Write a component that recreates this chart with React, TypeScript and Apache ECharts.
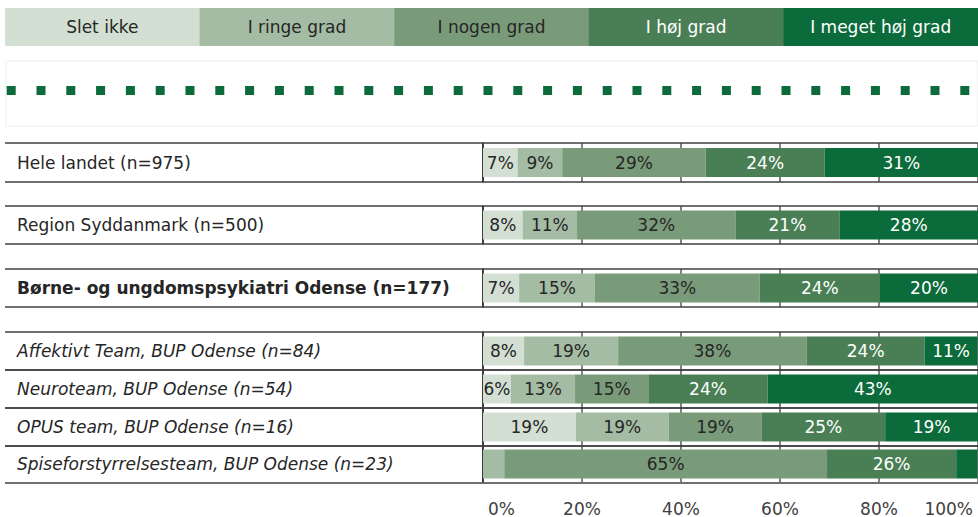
import React, { useEffect, useRef } from "react";
import * as echarts from "echarts";

const levels = ["Slet ikke", "I ringe grad", "I nogen grad", "I høj grad", "I meget høj grad"];
const categories = [
  "Hele landet (n=975)",
  "Region Syddanmark (n=500)",
  "Børne- og ungdomspsykiatri Odense (n=177)",
  "Affektivt Team, BUP Odense (n=84)",
  "Neuroteam, BUP Odense (n=54)",
  "OPUS team, BUP Odense (n=16)",
  "Spiseforstyrrelsesteam, BUP Odense (n=23)",
];
const sletIkke = [7, 8, 7.3, 8.3, 5.6, 18.75, 0];
const iRingeGrad = [9, 11, 15.3, 19.0, 13.0, 18.75, 4.3];
const iNogenGrad = [29, 32, 33.3, 38.1, 14.8, 18.75, 65.2];
const iHoejGrad = [24, 21, 24.3, 23.8, 24.1, 25, 26.1];
const iMegetHoejGrad = [31, 28, 19.8, 10.7, 42.6, 18.75, 4.3];
const xTickValues = [0, 20, 40, 60, 80, 100];

const seriesValues = [sletIkke, iRingeGrad, iNogenGrad, iHoejGrad, iMegetHoejGrad];
const colors = ["#d3dfd3", "#a3bca3", "#7a9b7a", "#4a7f55", "#0b6b3a"];
const labelColors = ["#262626", "#262626", "#262626", "#ffffff", "#ffffff"];

// table layout (row top / bottom in px)
const rowTops = [143, 206, 269, 332, 370, 408, 446];
const rowBottoms = [182, 244, 307, 370, 408, 446, 483];
const rowWeights = ["normal", "normal", "bold", "normal", "normal", "normal", "normal"];
const rowStyles = ["normal", "normal", "normal", "italic", "italic", "italic", "italic"];

const FONT = "DejaVu Sans, Verdana, sans-serif";
const FS = 17;

export default function App() {
  const ref = useRef<HTMLDivElement>(null);
  useEffect(() => {
    if (!ref.current) return;
    const chart = echarts.init(ref.current, null, { renderer: "svg" });
    const gridLeft = 483;
    const gridWidth = 497;

    const grids: any[] = [];
    const xAxes: any[] = [];
    const yAxes: any[] = [];
    const series: any[] = [];
    categories.forEach((cat, i) => {
      grids.push({ left: gridLeft, width: gridWidth, top: rowTops[i], height: rowBottoms[i] - rowTops[i] });
      const last = i === categories.length - 1;
      xAxes.push({
        type: "value",
        gridIndex: i,
        min: 0,
        max: 100,
        interval: 20,
        axisLine: { show: false },
        axisTick: { show: false },
        splitLine: { show: true, lineStyle: { color: "#595959", width: 1.5 } },
        axisLabel: {
          show: last,
          margin: 18,
          color: "#404040",
          fontFamily: FONT,
          fontSize: FS,
          padding: [0, 5, 0, 5],
          alignMinLabel: "left",
          alignMaxLabel: "right",
          customValues: xTickValues,
          formatter: (v: number) => `${v}%`,
        },
      });
      yAxes.push({
        type: "category",
        gridIndex: i,
        data: [cat],
        axisLine: { show: true, lineStyle: { color: "#262626", width: 1.5 } },
        axisTick: { show: false },
        axisLabel: {
          align: "left",
          margin: gridLeft - 17,
          color: "#262626",
          fontFamily: FONT,
          fontSize: FS,
          fontWeight: rowWeights[i],
          fontStyle: rowStyles[i],
        },
      });
      seriesValues.forEach((vals, s) => {
        series.push({
          type: "bar",
          name: levels[s],
          stack: "row" + i,
          xAxisIndex: i,
          yAxisIndex: i,
          barWidth: 29,
          data: [vals[i]],
          itemStyle: { color: colors[s] },
          label: {
            show: true,
            position: "inside",
            color: labelColors[s],
            fontFamily: FONT,
            fontSize: FS,
            formatter: (p: any) => (p.value >= 5 ? `${Math.round(p.value)}%` : ""),
          },
        });
      });
    });

    const graphics: any[] = [];
    const boxW = (978 - 5) / levels.length;
    levels.forEach((name, i) => {
      graphics.push({
        type: "rect",
        shape: { x: 5 + i * boxW, y: 8, width: boxW + 0.5, height: 38 },
        style: { fill: colors[i] },
      });
      graphics.push({
        type: "text",
        x: 5 + i * boxW + boxW / 2,
        y: 27,
        style: {
          text: name,
          fill: labelColors[i],
          font: `${FS}px ${FONT}`,
          textAlign: "center",
          textVerticalAlign: "middle",
        },
      });
    });
    graphics.push({
      type: "rect",
      shape: { x: 6, y: 61, width: 972, height: 65 },
      style: { fill: "none", stroke: "#ededed", lineWidth: 1 },
    });
    graphics.push({
      type: "line",
      shape: { x1: 6.7, y1: 90.5, x2: 970, y2: 90.5 },
      style: { stroke: "#0b6b3a", lineWidth: 9, lineDash: [9, 20.8], lineCap: "butt" },
    });
    rowTops.forEach((t, i) => {
      [t, rowBottoms[i]].forEach((y) => {
        graphics.push({
          type: "line",
          z: 10,
          shape: { x1: 5, y1: y, x2: 978, y2: y },
          style: { stroke: "#404040", lineWidth: 1.5 },
        });
      });
    });

    chart.setOption({
      animation: false,
      backgroundColor: "#ffffff",
      grid: grids,
      xAxis: xAxes,
      yAxis: yAxes,
      series,
      graphic: graphics,
    });
    return () => chart.dispose();
  }, []);
  return <div ref={ref} style={{ position: "fixed", left: 0, top: 0, width: 978, height: 517 }} />;
}
